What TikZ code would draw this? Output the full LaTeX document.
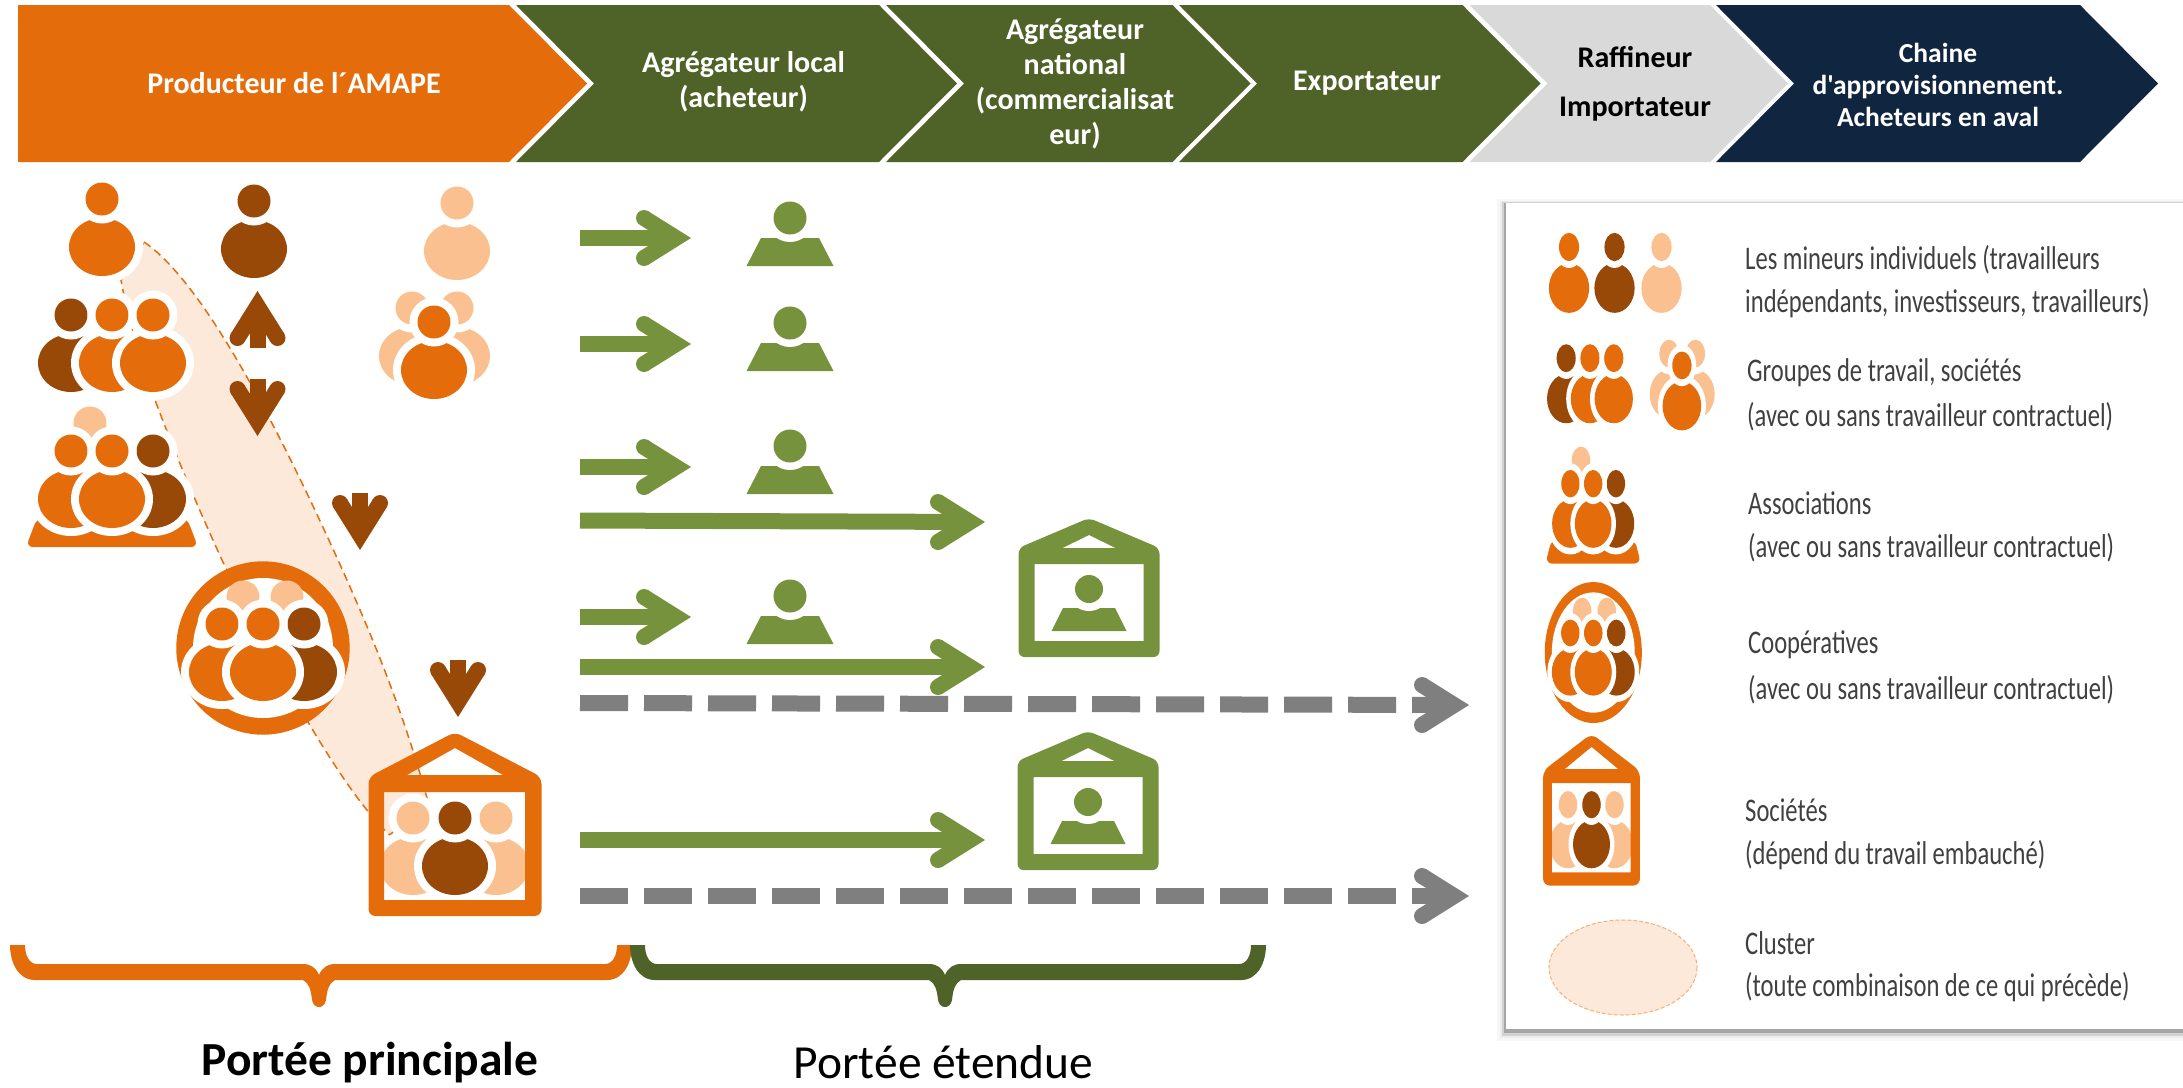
\documentclass[tikz,border=0pt]{standalone}
\usepackage{fontspec}
\usepackage{graphicx}
\setmainfont{Carlito}
\newfontfamily\plainf{Carlito}
\definecolor{orgM}{HTML}{E46C0A}
\definecolor{brnM}{HTML}{984807}
\definecolor{lgtM}{HTML}{FBC08F}
\definecolor{clsM}{HTML}{FDE9D9}
\definecolor{grnM}{HTML}{76923C}
\definecolor{dgnM}{HTML}{4F6228}
\definecolor{gryM}{HTML}{7F7F7F}
\definecolor{lgyM}{HTML}{D9D9D9}
\definecolor{navM}{HTML}{10253F}
\definecolor{txtM}{HTML}{404040}
\tikzset{
  hdr/.style={align=center,inner sep=0pt,text=white,font=\fontsize{30}{35}\selectfont\bfseries},
  legtxt/.style={anchor=west,inner sep=0pt,text=txtM,font=\fontsize{33}{36}\selectfont},
  greenflow/.style={draw=grnM,line width=16pt,shorten >=40pt},
  grayflow/.style={draw=gryM,line width=16pt,dash pattern=on 48pt off 16pt,shorten >=29pt},
}
% person: head centre #1,#2
\newcommand\pers[3]{%
  \fill[white] (#1,#2+48) ellipse [x radius=41,y radius=37];
  \fill[#3] (#1,#2+48) ellipse [x radius=33,y radius=29];
  \fill[white] (#1,#2) circle [radius=24.5];
  \fill[#3] (#1,#2) circle [radius=16.5];}
\newcommand\hd[3]{\fill[#3] (#1,#2) circle [radius=16.5];}
\newcommand\headshape[3]{%
  \begin{scope}[shift={(#1)},rotate=#2]
  \fill[#3] (0,0)--(-42.8,26.8)--(-51.2,13.2)--(-42.9,8)--(-42.9,-8)--(-51.2,-13.2)--(-42.8,-26.8)--cycle;
  \fill[#3] (-47,20) circle [radius=8];
  \fill[#3] (-47,-20) circle [radius=8];
  \end{scope}}
\newcommand\brownarrow[2]{%
  \headshape{#1}{#2}{brnM}
  \begin{scope}[shift={(#1)},rotate=#2]
  \fill[brnM] (-57,-8) rectangle (-40,8);
  \end{scope}}
\newcommand\flowg[2]{\draw[greenflow] (#1) -- (#2); \headshape{#2}{0}{grnM}}
\newcommand\flowk[2]{\draw[grayflow] (#1) -- (#2); \headshape{#2}{0}{gryM}}
\newcommand\gperson[2]{%
  \fill[grnM] (#1-29,#2+20)--(#1+29,#2+20)--(#1+43.5,#2+48)--(#1-43.5,#2+48)--cycle;
  \fill[white] (#1,#2) circle [radius=24];
  \fill[grnM] (#1,#2) circle [radius=16.5];}
\newcommand\ghouse[2]{%
  \fill[grnM,even odd rule,rounded corners=6pt] (#1-70.5,#2+139)--(#1-70.5,#2+30)--(#1,#2)--(#1+70.5,#2+30)--(#1+70.5,#2+139)--cycle
    [sharp corners] (#1-54.5,#2+46) rectangle (#1+54.5,#2+123)
    (#1-26.5,#2+30)--(#1,#2+17)--(#1+26.5,#2+30)--cycle;
  \fill[grnM] (#1-26,#2+90)--(#1+26,#2+90)--(#1+37.5,#2+113)--(#1-37.5,#2+113)--cycle;
  \fill[white] (#1,#2+71) circle [radius=22];
  \fill[grnM] (#1,#2+71) circle [radius=14];}
\newcommand\chev[3]{% start, body end, colour
  \fill[#3] (#1,5)--(#2,5)--(#2+78,83.5)--(#2,162)--(#1,162)--(#1+78,83.5)--cycle;}
\newcommand\brc[4]{% L R C colour
  \fill[#4] (#1,945) .. controls (#1,962) and (#1+8,980) .. (#1+25,980) -- (#3-16,980)
    .. controls (#3-10,983) and (#3-8,990) .. (#3-7,1000)
    .. controls (#3-6,1005) and (#3-3,1007) .. (#3,1007)
    .. controls (#3+3,1007) and (#3+6,1005) .. (#3+7,1000)
    .. controls (#3+8,990) and (#3+10,983) .. (#3+16,980)
    -- (#2-25,980) .. controls (#2-8,980) and (#2,962) .. (#2,945)
    -- (#2-15,945) .. controls (#2-15,955) and (#2-19,964) .. (#2-27,964)
    -- (#3+16,964) .. controls (#3+8,964) and (#3+3,968) .. (#3,975)
    .. controls (#3-3,968) and (#3-8,964) .. (#3-16,964)
    -- (#1+27,964) .. controls (#1+19,964) and (#1+15,955) .. (#1+15,945) -- cycle;}
\newcommand\grpA{\pers{71}{315}{brnM}\pers{112}{315}{orgM}\pers{153}{315}{orgM}}
\newcommand\grpB{\pers{412}{308}{lgtM}\pers{457}{308}{lgtM}\pers{434}{322}{orgM}}
\newcommand\grpC{%
  \fill[orgM,rounded corners=7pt] (37,518)--(187,518)--(198,547)--(26,547)--cycle;
  \hd{90}{423}{lgtM}\pers{71}{451}{orgM}\pers{153}{451}{brnM}\pers{112}{451}{orgM}}
\newcommand\icoop[1]{%
  \fill[orgM] (263,648) circle [radius=86.7];
  \fill[white] (263,648) circle [radius=#1];
  \hd{243}{597}{lgtM}\hd{287}{597}{lgtM}
  \pers{222}{624}{orgM}\pers{304}{624}{brnM}\pers{263}{624}{orgM}}
\newcommand\ihouse{%
  \pers{413}{818}{lgtM}\pers{496}{818}{lgtM}\pers{455}{818}{brnM}
  \fill[orgM,even odd rule,rounded corners=7pt] (368.5,916)--(368.5,777)--(455,732)--(541.5,777)--(541.5,916)--cycle
    [sharp corners] (384,792) rectangle (525,900)
    (407,775)--(455,748)--(503,775)--cycle;}
\newcommand\lgt[4]{\node[legtxt] (#1) at (#2,#3) {\scalebox{.745}[1]{#4}};}
\begin{document}
\begin{tikzpicture}[x=1pt,y=-1pt]
\useasboundingbox (0,0) rectangle (2183,1087);
\fill[white] (0,0) rectangle (2183,1087);
% header
\fill[orgM] (18,5)--(509,5)--(587,83.5)--(509,162)--(18,162)--cycle;
\chev{516}{879}{dgnM}
\chev{886}{1172.5}{dgnM}
\chev{1179}{1462.5}{dgnM}
\chev{1469.5}{1710}{lgyM}
\chev{1716}{2080}{navM}
\node[hdr] (h1) at (294,83) {Producteur de l´AMAPE};
\node[hdr] (h2) at (743.5,82) {Agrégateur local\\(acheteur)};
\node[hdr] (h3) at (1075,84) {Agrégateur\\national\\(commercialisat\\eur)};
\node[hdr] (h4) at (1367,83) {Exportateur};
\node[hdr,text=black,font=\fontsize{30}{49}\selectfont\bfseries] (h5) at (1635,84) {Raffineur\\Importateur};
\node[hdr,font=\fontsize{27.5}{32}\selectfont\bfseries] (h6) at (1938,85) {Chaine\\{\plainf\bfseries d'approvisionnement.}\\Acheteurs en aval};
% cluster
\draw[fill=clsM,draw=orgM,line width=1.5pt,dash pattern=on 8pt off 5pt]
  (144,242) .. controls (200,280) and (270,410) .. (338,560)
  .. controls (365,620) and (400,700) .. (427,798) -- (390,835)
  .. controls (345,795) and (275,670) .. (222,560)
  .. controls (190,490) and (170,440) .. (155,400)
  .. controls (140,360) and (128,320) .. (121,280) -- cycle;
% producers
\pers{102}{199}{orgM}
\pers{254}{201}{brnM}
\pers{457}{203}{lgtM}
\grpA
\grpB
\grpC
\icoop{70}
\ihouse
\brownarrow{257.5,291}{90}
\brownarrow{257.5,436}{-90}
\brownarrow{360,550}{-90}
\brownarrow{458,717}{-90}
% flows
\coordinate (s1) at (580,238); \coordinate (t1) at (691,238);
\coordinate (s2) at (580,344); \coordinate (t2) at (691,344);
\coordinate (s3) at (580,467); \coordinate (t3) at (691,467);
\coordinate (s4) at (580,520.5); \coordinate (t4) at (985,522);
\coordinate (s5) at (580,617); \coordinate (t5) at (691,617);
\coordinate (s6) at (580,667); \coordinate (t6) at (985,667);
\coordinate (s7) at (580,703); \coordinate (t7) at (1469,705);
\coordinate (s8) at (580,840); \coordinate (t8) at (985,840);
\coordinate (s9) at (580,896); \coordinate (t9) at (1469,896);
\flowg{s1}{t1}\flowg{s2}{t2}\flowg{s3}{t3}\flowg{s4}{t4}
\flowg{s5}{t5}\flowg{s6}{t6}\flowg{s8}{t8}
\flowk{s7}{t7}\flowk{s9}{t9}
\gperson{790}{218}
\gperson{790}{323}
\gperson{790}{446}
\gperson{790}{596}
\ghouse{1089}{518}
\ghouse{1088}{731}
% braces
\brc{10}{632}{319}{orgM}
\brc{630}{1266}{945}{dgnM}
\node[inner sep=0pt,font=\fontsize{47.5}{50}\selectfont\bfseries] (p1) at (370,1062.5) {Portée principale};
\node[inner sep=0pt,font=\fontsize{47.5}{50}\selectfont] (p2) at (943.5,1062.5) {Portée étendue};
% legend box
\fill[gray!6] (1497,199) rectangle (2183,1041);
\fill[gray!14] (1500,201) rectangle (2183,1038);
\fill[gray!35] (1502,202) rectangle (2183,1036);
\fill[gray!70] (1504,203) rectangle (2183,1033);
\fill[white] (1506,203) rectangle (2183,1029);
% legend icons
\begin{scope}[shift={(1569,247)},xscale=.61,yscale=.855]\pers{0}{0}{orgM}\end{scope}
\begin{scope}[shift={(1614.5,247)},xscale=.61,yscale=.855]\pers{0}{0}{brnM}\end{scope}
\begin{scope}[shift={(1661.5,247)},xscale=.61,yscale=.855]\pers{0}{0}{lgtM}\end{scope}
\begin{scope}[shift={(1525,92)},xscale=.58,yscale=.845]\grpA\end{scope}
\begin{scope}[shift={(1428,94)},xscale=.585,yscale=.843]\grpB\end{scope}
\begin{scope}[shift={(1531,108)},xscale=.555,yscale=.833]\grpC\end{scope}
\begin{scope}[shift={(1446,125.7)},xscale=.56,yscale=.813]\icoop{74}\end{scope}
\begin{scope}[shift={(1336.7,129)},xscale=.56,yscale=.826]\ihouse\end{scope}
\draw[fill=clsM,draw=lgtM!80!orgM,line width=1pt,dash pattern=on 4pt off 2pt] (1623,967.5) ellipse [x radius=74,y radius=47.5];
% legend texts
\lgt{l1}{1745}{260}{Les mineurs individuels (travailleurs}
\lgt{l2}{1745}{303}{indépendants, investisseurs, travailleurs)}
\lgt{l3}{1747}{373}{Groupes de travail, sociétés}
\lgt{l4}{1747}{417}{(avec ou sans travailleur contractuel)}
\lgt{l5}{1748}{503}{Associations}
\lgt{l6}{1748}{548}{(avec ou sans travailleur contractuel)}
\lgt{l7}{1748}{645}{Coopératives}
\lgt{l8}{1748}{690}{(avec ou sans travailleur contractuel)}
\lgt{l9}{1745}{810}{Sociétés}
\lgt{l10}{1745}{855}{(dépend du travail embauché)}
\lgt{l11}{1745}{943}{Cluster}
\lgt{l12}{1745}{987}{(toute combinaison de ce qui précède)}
\end{tikzpicture}
\end{document}
